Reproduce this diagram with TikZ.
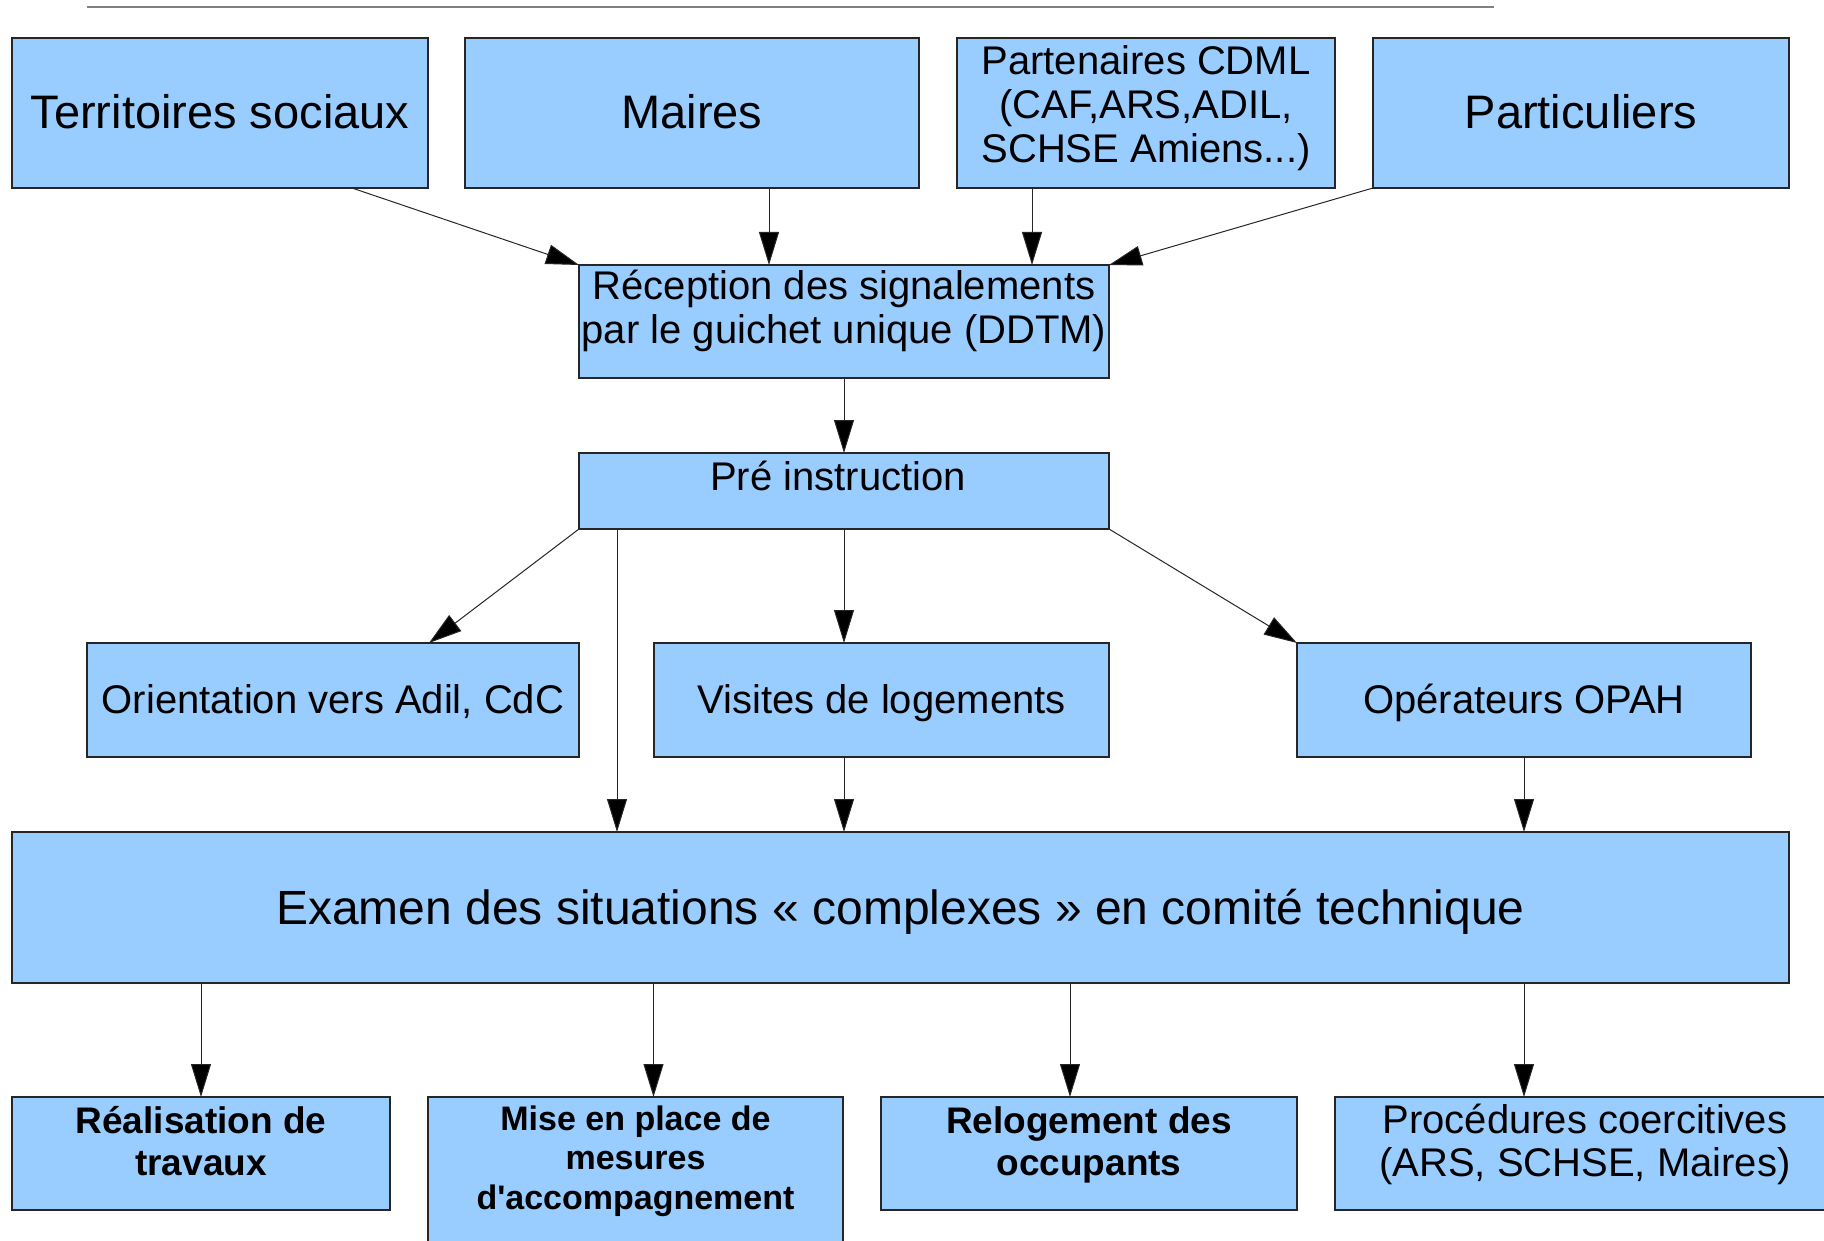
\documentclass[tikz,border=0pt]{standalone}
\usepackage{fontspec}
\setmainfont{Liberation Sans}[Ligatures=TeXOff]
\usetikzlibrary{arrows.meta}
\definecolor{boxblue}{HTML}{99CCFF}

\begin{document}
\begin{tikzpicture}[x=1pt,y=-1pt,
  box/.style={draw=black!85,fill=boxblue,line width=1.3pt,inner sep=0pt,outer sep=0pt,align=center,anchor=north},
  hd/.style 2 args={text height=#1pt,text depth=#2pt},
  big/.style={font=\fontsize{47}{54}\selectfont},
  mid/.style={font=\fontsize{40}{44}\selectfont},
  low/.style={font=\bfseries\fontsize{37}{42}\selectfont},
  arr/.style={draw=black!85,line width=1pt,-{Triangle[length=33pt,width=20pt,fill=black]}}]
  \useasboundingbox (0,0) rectangle (1824,1241);
  \clip (0,0) rectangle (1824,1241);

  \draw[gray,line width=1.5pt] (87,7) -- (1494,7);

  % sources
  \node[box,big,hd={91}{59},minimum width=416pt] (terr) at (220,38) {Territoires sociaux};
  \node[box,big,hd={91}{59},minimum width=454pt] (maires) at (692,38) {Maires};
  \node[box,mid,hd={125}{25},minimum width=378pt] (part) at (1146,38)
    {Partenaires CDML\\(CAF,ARS,ADIL,\\SCHSE Amiens...)};
  \node[box,big,hd={91}{59},minimum width=416pt] (partic) at (1581,38) {Particuliers};

  \node[box,mid,hd={79}{34},minimum width=530pt] (recep) at (844,265)
    {Réception des signalements\\par le guichet unique (DDTM)};
  \node[box,mid,hd={37}{39},minimum width=530pt] (pre) at (844,453) {Pré instruction\hspace{12pt}};

  \node[box,mid,hd={70}{44},minimum width=492pt] (orient) at (333,643) {Orientation vers Adil, CdC};
  \node[box,mid,hd={70}{44},minimum width=455pt] (visites) at (881.5,643) {Visites de logements};
  \node[box,mid,hd={70}{44},minimum width=454pt] (opah) at (1524,643) {Opérateurs OPAH};

  \node[box,hd={92}{59},minimum width=1777pt,font=\fontsize{48}{54}\selectfont] (exam) at (900.5,832)
    {Examen des situations «~complexes~» en comité technique};

  % suites
  \node[box,low,hd={78}{35},minimum width=378pt] (real) at (201,1097) {Réalisation de\\travaux};
  \node[box,hd={112}{48},minimum width=415pt,font=\bfseries\fontsize{34}{39.5}\selectfont] (mise) at (635.5,1097)
    {Mise en place de\\mesures\\d'accompagnement};
  \node[box,low,hd={78}{35},minimum width=416pt] (relog) at (1089,1097) {Relogement des\\occupants};
  \node[box,hd={79}{34},minimum width=500pt,font=\fontsize{40}{43}\selectfont] (proc) at (1585,1097)
    {Procédures coercitives\\(ARS, SCHSE, Maires)};

  \draw[arr] ([xshift=-76pt]terr.south east) -- (recep.north west);
  \draw[arr] ([xshift=77pt]maires.south) -- ([xshift=77pt]maires.south |- recep.north);
  \draw[arr] ([xshift=-114pt]part.south) -- ([xshift=-114pt]part.south |- recep.north);
  \draw[arr] (partic.south west) -- (recep.north east);
  \draw[arr] (recep.south) -- (pre.north);

  \draw[arr] (pre.south west) -- ([xshift=96pt]orient.north);
  \draw[arr] ([xshift=38pt]pre.south west) -- ([xshift=38pt]pre.south west |- exam.north);
  \draw[arr] (pre.south) -- (pre.south |- visites.north);
  \draw[arr] (pre.south |- visites.south) -- (pre.south |- exam.north);
  \draw[arr] (pre.south east) -- (opah.north west);
  \draw[arr] (opah.south) -- (opah.south |- exam.north);

  \draw[arr] (real.north |- exam.south) -- (real.north);
  \draw[arr] ([xshift=18pt]mise.north |- exam.south) -- ([xshift=18pt]mise.north);
  \draw[arr] ([xshift=-19pt]relog.north |- exam.south) -- ([xshift=-19pt]relog.north);
  \draw[arr] (opah.south |- exam.south) -- (opah.south |- proc.north);
\end{tikzpicture}
\end{document}
